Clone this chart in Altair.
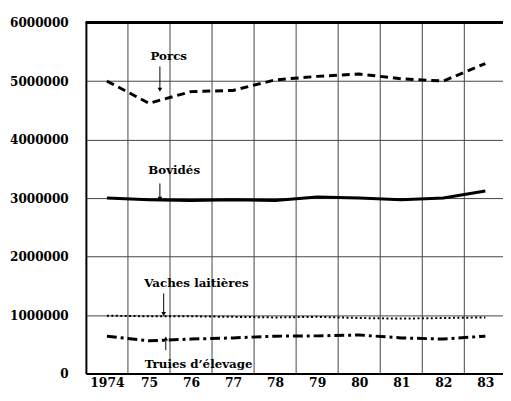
import altair as alt
import pandas as pd

# ---- data ----
years = [1974, 1975, 1976, 1977, 1978, 1979, 1980, 1981, 1982, 1983]
year_labels = ["1974", "75", "76", "77", "78", "79", "80", "81", "82", "83"]
y_ticks = [0, 1000000, 2000000, 3000000, 4000000, 5000000, 6000000]

porcs = [5000000, 4620000, 4820000, 4840000, 5020000, 5080000, 5120000, 5040000, 5000000, 5300000]
bovides = [3000000, 2970000, 2960000, 2970000, 2960000, 3020000, 3000000, 2970000, 3000000, 3120000]
vaches = [990000, 980000, 980000, 970000, 960000, 970000, 950000, 940000, 950000, 960000]
truies = [640000, 560000, 590000, 610000, 640000, 645000, 660000, 610000, 590000, 640000]

series_names = ["Porcs", "Bovidés", "Vaches laitières", "Truies d'élevage"]

# annotation labels (anchor in data units)
ann_text = ["Porcs", "Bovidés", "Vaches laitières", "Truies d’élevage"]
ann_x = [1975.47, 1975.6, 1976.13, 1976.18]
ann_y = [5430000, 3480000, 1540000, 170000]

# arrows: x, tail value, tip value
arr_x = [1975.26, 1975.26, 1975.35, 1975.4]
arr_tail = [5250000, 3250000, 1370000, 400000]
arr_tip = [4850000, 2990000, 1020000, 600000]

# ---- tables ----
rows = []
for name, vals in zip(series_names, [porcs, bovides, vaches, truies]):
    for yr, v in zip(years, vals):
        rows.append({"year": yr, "value": v, "series": name})
df = pd.DataFrame(rows)

grid_df = pd.DataFrame({"b": [y + 0.5 for y in years[:-1]]})
ann_df = pd.DataFrame({"label": ann_text, "x": ann_x, "y": ann_y})
arr_df = pd.DataFrame({
    "x": arr_x, "tail": arr_tail, "tip": arr_tip,
    "shape": ["triangle-down" if t < s else "triangle-up" for s, t in zip(arr_tail, arr_tip)],
})

# ---- scales / axes ----
label_expr = "''"
for yr, lab in reversed(list(zip(years, year_labels))):
    label_expr = f"datum.value == {yr} ? '{lab}' : ({label_expr})"

FONT = "DejaVu Serif"
xscale = alt.Scale(domain=[1973.5, 1983.42], nice=False, zero=False)
yscale = alt.Scale(domain=[0, 6000000], nice=False)
xaxis = alt.Axis(values=years, labelExpr=label_expr, grid=False, ticks=False,
                 domainWidth=2, domainColor="black", labelFont=FONT, labelFontSize=12.5,
                 labelFontWeight="bold", labelColor="black", labelPadding=3, title=None,
                 labelFlush=False, labelOverlap=False)
yaxis = alt.Axis(values=y_ticks, format="d", grid=True, gridColor="#444444", gridWidth=1,
                 ticks=False, domainWidth=2, domainColor="black", labelFont=FONT,
                 labelFontSize=12.2, labelFontWeight="bold", labelColor="black",
                 labelPadding=18, title=None)


def X(field):
    return alt.X(field, type="quantitative", scale=xscale, axis=xaxis)


def Y(field):
    return alt.Y(field, type="quantitative", scale=yscale, axis=yaxis)


vgrid = alt.Chart(grid_df).mark_rule(color="#444444", strokeWidth=1).encode(x=X("b"))
top = alt.Chart(grid_df).mark_rule(color="black", strokeWidth=2).encode(
    y=alt.value(0))

styles = {
    "Porcs": dict(strokeDash=[8, 5], strokeWidth=3),
    "Bovidés": dict(strokeWidth=3),
    "Vaches laitières": dict(strokeDash=[2, 2.5], strokeWidth=2),
    "Truies d'élevage": dict(strokeDash=[10, 4, 3, 4], strokeWidth=3),
}
lines = []
for name in series_names:
    lines.append(
        alt.Chart(df).transform_filter(alt.datum.series == name)
        .mark_line(color="black", **styles[name])
        .encode(x=X("year"), y=Y("value"))
    )

texts = alt.Chart(ann_df).mark_text(font=FONT, fontSize=12, fontWeight="bold",
                                    color="black").encode(
    x=X("x"), y=Y("y"), text="label:N")
arr_lines = alt.Chart(arr_df).mark_rule(color="black", strokeWidth=1).encode(
    x=X("x"), y=Y("tail"), y2="tip")
arr_heads = alt.Chart(arr_df).mark_point(filled=True, color="black", size=22, opacity=1).encode(
    x=X("x"), y=Y("tip"), shape=alt.Shape("shape:N", scale=None))

chart = alt.layer(vgrid, top, *lines, arr_lines, arr_heads, texts).properties(
    width=423, height=356,
    autosize=alt.AutoSizeParams(type="none"),
    padding={"left": 79, "top": 12, "right": 0, "bottom": 24},
    background="white",
).configure_view(stroke=None)

chart.save("out.html", embed_options={"renderer": "svg", "actions": False})
